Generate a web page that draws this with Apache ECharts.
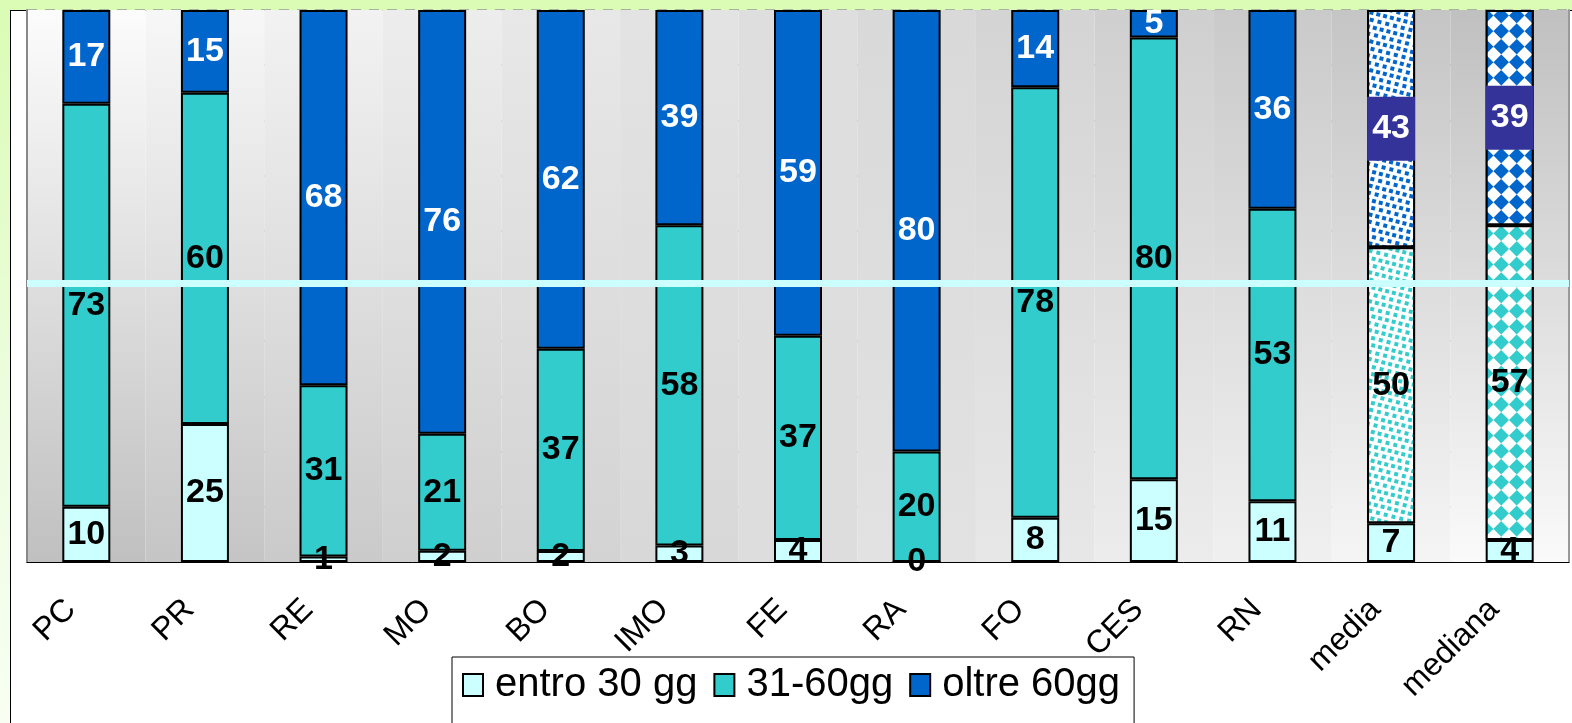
<!DOCTYPE html>
<html>
<head>
<meta charset="utf-8">
<script src="https://cdn.jsdelivr.net/npm/echarts@6/dist/echarts.min.js"></script>
<style>
  html, body { margin: 0; padding: 0; }
  body {
    width: 1572px;
    height: 723px;
    overflow: hidden;
    background: linear-gradient(to bottom, #dafcb4 0%, #eefde2 60%, #f8fff2 100%);
    position: relative;
  }
  #frame {
    position: absolute;
    left: 10px;
    top: 10px;
    width: 1570px;
    height: 720px;
    background: #fff;
    border-left: 1px solid #000;
    border-top: 1px solid #000;
  }
  #main {
    position: absolute;
    left: 0;
    top: 0;
    width: 1572px;
    height: 723px;
  }
</style>
</head>
<body>
<div id="frame"></div>
<div id="main"></div>
<script>
  // dati (percentuali)
  const categories = ["PC", "PR", "RE", "MO", "BO", "IMO", "FE", "RA", "FO", "CES", "RN", "media", "mediana"];
  const entro30 = [10, 25, 1, 2, 2, 3, 4, 0, 8, 15, 11, 7, 4];
  const da31a60 = [73, 60, 31, 21, 37, 58, 37, 20, 78, 80, 53, 50, 57];
  const oltre60 = [17, 15, 68, 76, 62, 39, 59, 80, 14, 5, 36, 43, 39];
  const seriesNames = ["entro 30 gg", "31-60gg", "oltre 60gg"];
  const refLine = 50.5;

  const font = "Liberation Sans, Arial, sans-serif";
  const colors = ["#ccffff", "#33cccc", "#0066cc"];

  // barre "media" con puntini, "mediana" con rombi
  function decalFor(cat, color) {
    if (cat === "media") {
      return {
        symbol: "rect", symbolSize: 1, color: color, backgroundColor: "#fff",
        dashArrayX: [[4, 3], [0, 3.5, 4, 0]], dashArrayY: [4, 3], rotation: 0.25
      };
    }
    if (cat === "mediana") {
      return {
        symbol: "rect", symbolSize: 1, color: color, backgroundColor: "#fff",
        dashArrayX: [[11, 11], [0, 11, 11, 0]], dashArrayY: [11, 0], rotation: Math.PI / 4
      };
    }
    return null;
  }

  let myChart = echarts.init(document.getElementById("main"));

  // sfondo a bande: ogni categoria con il suo gradiente verticale
  let bandColors = [];
  for (let i = 0; i < categories.length; i++) {
    let t = i / (categories.length - 1);
    let top = Math.round(252 - 60 * t);
    let bottom = Math.round(192 + 58 * t);
    bandColors.push({
      type: "linear", x: 0, y: 0, x2: 0, y2: 1,
      colorStops: [
        { offset: 0, color: "rgb(" + top + "," + top + "," + top + ")" },
        { offset: 1, color: "rgb(" + bottom + "," + bottom + "," + bottom + ")" }
      ]
    });
  }

  const values = [entro30, da31a60, oltre60];
  let series = values.map(function (arr, s) {
    return {
      name: seriesNames[s],
      type: "bar",
      stack: "tot",
      barWidth: 48,
      itemStyle: { color: colors[s], borderColor: "#000", borderWidth: 2 },
      label: {
        show: true,
        position: "inside",
        color: s === 2 ? "#fff" : "#000",
        fontSize: 34,
        fontWeight: "bold",
        fontFamily: font,
        formatter: function (p) { return p.data.raw; }
      },
      data: arr.map(function (v, i) {
        // 100% in pila, come in Excel
        let total = entro30[i] + da31a60[i] + oltre60[i];
        let item = { value: v * 100 / total, raw: v };
        let decal = s > 0 ? decalFor(categories[i], colors[s]) : null;
        if (decal) {
          item.itemStyle = { color: "#fff", decal: decal };
          if (s === 2) {
            item.label = { backgroundColor: "#333399", padding: [15, 0], width: 48, align: "center" };
          }
        }
        return item;
      })
    };
  });

  series[2].markLine = {
    silent: true,
    symbol: "none",
    label: { show: false },
    lineStyle: { color: "#ccffff", width: 7, type: "solid" },
    data: [{ yAxis: refLine }]
  };

  let option = {
    animation: false,
    textStyle: { fontFamily: font },
    grid: { left: 27, right: 3, top: 10, bottom: 161 },
    legend: {
      data: seriesNames,
      left: 452,
      top: 657,
      padding: [8, 14, 40, 10],
      borderColor: "#000",
      borderWidth: 1,
      backgroundColor: "#fff",
      itemWidth: 20,
      itemHeight: 22,
      itemGap: 16,
      icon: "rect",
      textStyle: { fontSize: 40, color: "#000", fontFamily: font, padding: [0, 0, 0, 7] }
    },
    xAxis: {
      type: "category",
      data: categories,
      boundaryGap: true,
      axisLine: { lineStyle: { color: "#000", width: 1 } },
      axisTick: { length: 10, lineStyle: { color: "#000" } },
      axisLabel: {
        rotate: 45, fontSize: 32, color: "#000", margin: 27,
        padding: [0, 22, 0, 0], fontFamily: font
      },
      splitArea: { show: true, areaStyle: { color: bandColors } }
    },
    yAxis: [
      {
        type: "value",
        min: 0,
        max: 100,
        interval: 10,
        axisLabel: { show: false },
        axisTick: { show: false },
        axisLine: { show: true, lineStyle: { color: "#888", width: 2 } },
        splitLine: { lineStyle: { color: "#999", type: [10, 8], width: 1.5 } }
      },
      {
        type: "value",
        position: "right",
        min: 0,
        max: 100,
        interval: 10,
        axisLabel: { show: false },
        axisTick: { show: false },
        axisLine: { show: true, lineStyle: { color: "#999", width: 2 } },
        splitLine: { show: false }
      }
    ],
    series: series
  };

  myChart.setOption(option);
</script>
</body>
</html>
